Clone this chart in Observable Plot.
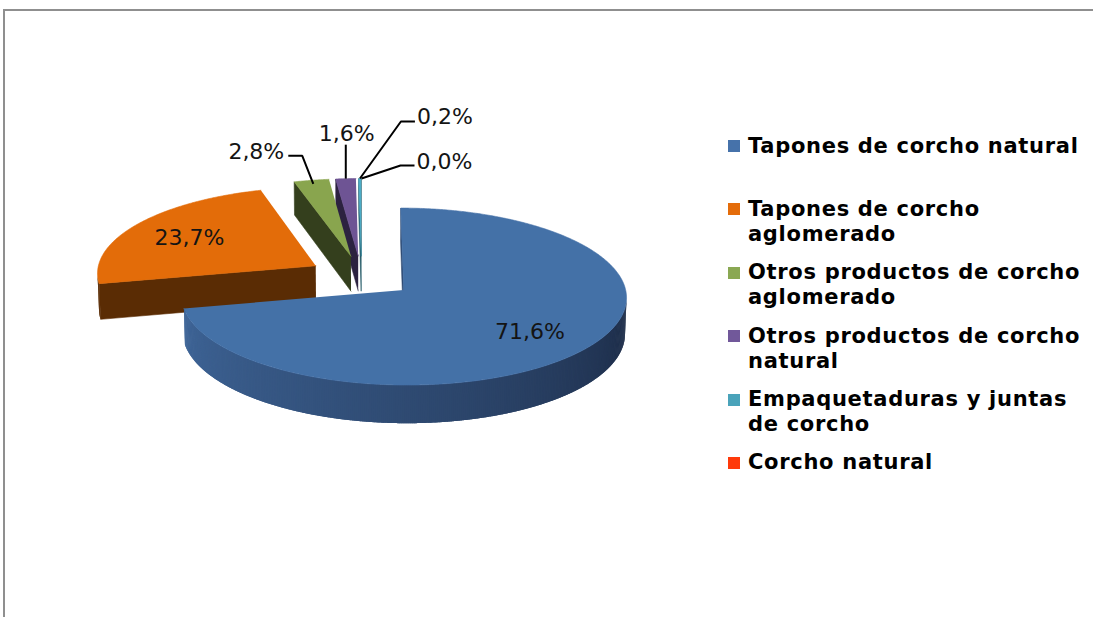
<!DOCTYPE html>
<html>
<head>
<meta charset="utf-8">
<script src="https://cdn.jsdelivr.net/npm/d3@7"></script>
<script src="https://cdn.jsdelivr.net/npm/@observablehq/plot@0.6"></script>
<style>
html, body { margin: 0; padding: 0; background: #fff; }
#wrap { position: relative; width: 1093px; height: 617px; overflow: hidden; background: #fff; }
#chart { position: absolute; left: 0; top: 0; }
#frame { position: absolute; left: 3px; top: 9px; width: 1200px; height: 700px;
  border-top: 2px solid #8f8f8f; border-left: 2px solid #8f8f8f; }
#legend { position: absolute; left: 728px; top: 133.5px; font-family: "DejaVu Sans"; font-weight: bold;
  font-size: 21px; color: #000; }
.item { position: relative; height: 63.4px; }
.sw { position: absolute; left: 0; top: 6.5px; width: 12px; height: 12px; }
.txt { position: absolute; left: 20px; top: 0; line-height: 25px; white-space: nowrap; letter-spacing: 0.7px; }
</style>
</head>
<body>
<div id="wrap"><div id="chart"></div><div id="frame"></div><div id="legend"></div></div>
<script>
// ---- data ----
const categories = [
  "Tapones de corcho natural",
  "Tapones de corcho aglomerado",
  "Otros productos de corcho aglomerado",
  "Otros productos de corcho natural",
  "Empaquetaduras y juntas de corcho",
  "Corcho natural"
];
const shares = [71.6, 23.7, 2.8, 1.6, 0.2, 0.0];
const shareLabels = ["71,6%", "23,7%", "2,8%", "1,6%", "0,2%", "0,0%"];
const legendLines = [
  ["Tapones de corcho natural"],
  ["Tapones de corcho", "aglomerado"],
  ["Otros productos de corcho", "aglomerado"],
  ["Otros productos de corcho", "natural"],
  ["Empaquetaduras y juntas", "de corcho"],
  ["Corcho natural"]
];

// ---- styles ----
const topColors = ["#4471A7", "#E36C09", "#89A54E", "#6E5494", "#4BACC6", "#FF3300"];
const sideColors = ["#2F4B73", "#5A2C04", "#343F1D", "#2C2240", "#1E5563", "#7F1900"];
const legendColors = ["#4672AA", "#E46C0A", "#8AA853", "#71589A", "#4AA3BA", "#FF3A0A"];
const blueSideRamp = d3.interpolateRgbBasis(["#41699D", "#2F4B73", "#1B2943"]);

// ---- 3D layout ----
const P = { cx: 361, cy: 276, f: 2720, D: 12.4, tilt: 23.08, h: 0.177, explode: 0.245 };
const sinT = Math.sin(P.tilt * Math.PI / 180), cosT = Math.cos(P.tilt * Math.PI / 180);
function proj(X, Y, Z) {
  const yv = Z * sinT - Y * cosT;
  const d = P.D - Z * cosT - Y * sinT;
  return [P.cx + P.f * X / d, P.cy + P.f * yv / d];
}
const cam = [0, P.D * sinT, P.D * cosT];
function facing(pt, n) {
  return (cam[0] - pt[0]) * n[0] + (cam[1] - pt[1]) * n[1] + (cam[2] - pt[2]) * n[2] > 0;
}

// label layout: radius along bisector, and leader/label offsets (px)
const labelLayout = [
  { r: 0.7, inside: true, dy: 2 },
  { r: 0.7, inside: true, dy: 2 },
  { r: 0.95, dE: [-11, -28], dH: [-14, 0], dT: [-4, -4], anchor: "end" },
  { r: 1.0, dE: [0, -34], dH: [0, 0], dT: [1, -11], anchor: "middle" },
  { r: 1.0, dE: [41, -57], dH: [14, 0], dT: [2, -5], anchor: "start" },
  { r: 1.0, dE: [39, -13], dH: [14, 0], dT: [2, -4], anchor: "start" }
];

const pie = d3.pie().sort(null).value(d => d)(shares);
const slices = pie.map((p, i) => {
  const a0 = p.startAngle, a1 = p.endAngle, mid = (a0 + a1) / 2;
  return { i, a0, a1, mid, ox: P.explode * Math.sin(mid), oz: -P.explode * Math.cos(mid) };
});
const order = slices.slice().sort((a, b) => a.oz - b.oz);

const rows = [];
let pid = 0;
function addPoly(pts, fill, stroke) {
  const id = pid++;
  for (const q of pts) {
    const [x, y] = proj(q[0], q[1], q[2]);
    rows.push({ id, x, y, fill, stroke });
  }
}

for (const s of order) {
  if (s.a1 - s.a0 < 1e-6) continue;
  const i = s.i;
  const V = [s.ox, 0, s.oz], Vb = [s.ox, -P.h, s.oz];
  const rim = (t, Y) => [s.ox + Math.sin(t), Y, s.oz - Math.cos(t)];
  // radial faces
  const n0 = [-Math.cos(s.a0), 0, -Math.sin(s.a0)];
  const r0 = rim(s.a0, 0);
  if (facing([(V[0] + r0[0]) / 2, -P.h / 2, (V[2] + r0[2]) / 2], n0))
    addPoly([V, r0, rim(s.a0, -P.h), Vb], sideColors[i], sideColors[i]);
  const n1 = [Math.cos(s.a1), 0, Math.sin(s.a1)];
  const r1 = rim(s.a1, 0);
  if (facing([(V[0] + r1[0]) / 2, -P.h / 2, (V[2] + r1[2]) / 2], n1))
    addPoly([V, r1, rim(s.a1, -P.h), Vb], sideColors[i], sideColors[i]);
  // outer rim (overlapping strips to avoid seams)
  const steps = Math.max(2, Math.ceil((s.a1 - s.a0) / (Math.PI / 360)));
  const dt = (s.a1 - s.a0) / steps;
  for (let k = 0; k < steps; k++) {
    const t0 = s.a0 + dt * k;
    const t1 = Math.min(s.a1, t0 + dt * 2.2);
    const tm = t0 + dt / 2;
    const n = [Math.sin(tm), 0, -Math.cos(tm)];
    if (!facing(rim(tm, -P.h / 2), n)) continue;
    let col = sideColors[i];
    if (i === 0) {
      const t = Math.max(0, Math.min(1, (1.5 * Math.PI - tm) / Math.PI));
      col = blueSideRamp(t);
    }
    const pts = [rim(t0, 0)];
    for (let u = 1; u <= 3; u++) pts.push(rim(t0 + (t1 - t0) * u / 3, 0));
    for (let u = 3; u >= 0; u--) pts.push(rim(t0 + (t1 - t0) * u / 3, -P.h));
    addPoly(pts, col, "none");
  }
  // top
  const top = [V];
  for (let k = 0; k <= steps; k++) top.push(rim(s.a0 + dt * k, 0));
  addPoly(top, topColors[i], topColors[i]);
}

// labels and leaders
const labelRows = [];
const leaderRows = [];
slices.forEach((s, i) => {
  const L = labelLayout[i];
  const [ax, ay] = proj(s.ox + L.r * Math.sin(s.mid), 0, s.oz - L.r * Math.cos(s.mid));
  if (L.inside) {
    labelRows.push({ x: ax, y: ay + L.dy, text: shareLabels[i], anchor: "middle" });
  } else {
    const ex = ax + L.dE[0], ey = ay + L.dE[1];
    const hx = ex + L.dH[0], hy = ey + L.dH[1];
    leaderRows.push({ id: i, x: ax, y: ay }, { id: i, x: ex, y: ey }, { id: i, x: hx, y: hy });
    labelRows.push({ x: hx + L.dT[0], y: hy + L.dT[1], text: shareLabels[i], anchor: L.anchor });
  }
});

const textOpts = { x: "x", y: "y", text: "text", fontSize: 22, fontFamily: "DejaVu Sans", fill: "#141414" };
const chart = Plot.plot({
  width: 1093, height: 617, margin: 0,
  x: { domain: [0, 1093], range: [0, 1093], axis: null },
  y: { domain: [0, 617], range: [0, 617], axis: null },
  color: { type: "identity" },
  style: { fontFamily: "DejaVu Sans", background: "transparent" },
  marks: [
    Plot.line(rows, { x: "x", y: "y", z: "id", fill: "fill", stroke: "stroke", strokeWidth: 0.6, curve: "linear" }),
    Plot.line(leaderRows, { x: "x", y: "y", z: "id", stroke: "#000", strokeWidth: 2, curve: "linear", strokeLinejoin: "miter", strokeLinecap: "butt" }),
    Plot.text(labelRows.filter(d => d.anchor === "middle"), { ...textOpts, textAnchor: "middle" }),
    Plot.text(labelRows.filter(d => d.anchor === "start"), { ...textOpts, textAnchor: "start" }),
    Plot.text(labelRows.filter(d => d.anchor === "end"), { ...textOpts, textAnchor: "end" })
  ]
});
document.getElementById("chart").appendChild(chart);

// legend
const legend = document.getElementById("legend");
categories.forEach((c, i) => {
  const item = document.createElement("div");
  item.className = "item";
  item.title = c;
  const sw = document.createElement("div");
  sw.className = "sw";
  sw.style.background = legendColors[i];
  const txt = document.createElement("div");
  txt.className = "txt";
  txt.innerHTML = legendLines[i].join("<br>");
  item.appendChild(sw);
  item.appendChild(txt);
  legend.appendChild(item);
});
</script>
</body>
</html>
